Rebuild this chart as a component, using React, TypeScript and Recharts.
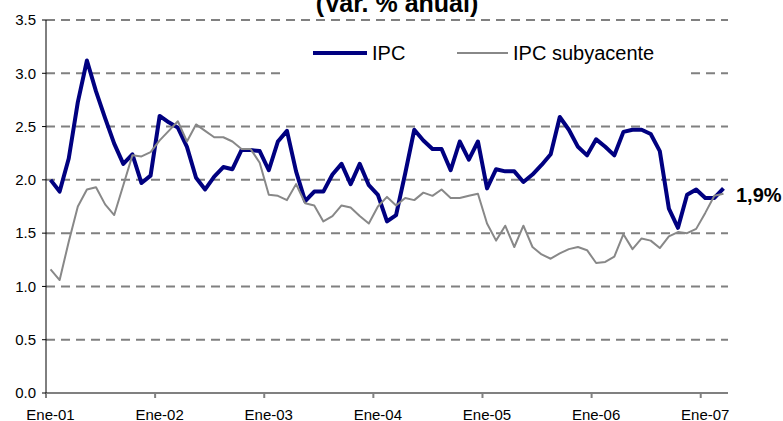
import { CartesianGrid, Legend, Line, LineChart, XAxis, YAxis } from "recharts";

const FONT = "Arial, 'Liberation Sans', sans-serif";

// monthly data, Ene-01 .. Mar-07
const yearLabels = ["Ene-01", "Ene-02", "Ene-03", "Ene-04", "Ene-05", "Ene-06", "Ene-07"];

const ipc = [
  2.0, 1.89, 2.2, 2.73, 3.12, 2.83, 2.58, 2.34, 2.15, 2.24, 1.97, 2.04,
  2.6, 2.54, 2.49, 2.31, 2.02, 1.91, 2.03, 2.12, 2.1, 2.28, 2.28, 2.27,
  2.09, 2.36, 2.46, 2.08, 1.8, 1.89, 1.89, 2.05, 2.15, 1.96, 2.15, 1.95,
  1.86, 1.61, 1.67, 2.06, 2.47, 2.37, 2.29, 2.29, 2.09, 2.36, 2.19, 2.36,
  1.92, 2.1, 2.08, 2.08, 1.98, 2.05, 2.14, 2.24, 2.59, 2.47, 2.31, 2.23,
  2.38, 2.31, 2.23, 2.45, 2.47, 2.47, 2.43, 2.27, 1.73, 1.55, 1.86, 1.91,
  1.83, 1.83, 1.92,
];

const ipcSubyacente = [
  1.16, 1.06, 1.42, 1.75, 1.91, 1.93, 1.77, 1.67, 1.95, 2.23, 2.22, 2.26,
  2.37, 2.46, 2.55, 2.36, 2.52, 2.46, 2.4, 2.4, 2.36, 2.29, 2.29, 2.16,
  1.86, 1.85, 1.81, 1.96, 1.78, 1.76, 1.61, 1.66, 1.76, 1.74, 1.66, 1.59,
  1.75, 1.84, 1.76, 1.83, 1.81, 1.88, 1.85, 1.91, 1.83, 1.83, 1.85, 1.87,
  1.59, 1.43, 1.57, 1.37, 1.57, 1.37, 1.3, 1.26, 1.31, 1.35, 1.37, 1.34,
  1.22, 1.23, 1.28, 1.49, 1.35, 1.45, 1.43, 1.36, 1.47, 1.51, 1.5, 1.54,
  1.69, 1.85, 1.87,
];

const yTicks = [0, 0.5, 1, 1.5, 2, 2.5, 3, 3.5];

// each month sits in the middle of its slot, year ticks on the slot boundary
const data = ipc.map((v, i) => ({ t: i + 0.5, ipc: v, sub: ipcSubyacente[i] }));
const xTicks = yearLabels.map((_, i) => i * 12);

function YearTick({ x, y, payload }: any) {
  return (
    <text x={x + 4.5} y={y} dy={11.5} textAnchor="middle" fontSize={15} fill="#000" fontFamily={FONT}>
      {yearLabels[payload.value / 12]}
    </text>
  );
}

function LegendBox({ payload }: any) {
  return (
    <div
      style={{
        display: "flex",
        alignItems: "center",
        height: 50,
        paddingLeft: 29,
        fontFamily: FONT,
        fontSize: 20,
        color: "#000",
      }}
    >
      {(payload || []).map((p: any, i: number) => (
        <div key={p.value} style={{ display: "flex", alignItems: "center", width: i === 0 ? 144 : undefined }}>
          <span
            style={{
              display: "inline-block",
              width: i === 0 ? 54 : 51,
              height: i === 0 ? 4 : 2,
              background: p.color,
              marginRight: 5,
            }}
          />
          <span>{p.value}</span>
        </div>
      ))}
    </div>
  );
}

function LastLabel(props: any) {
  const { x, y, index } = props;
  if (index !== ipc.length - 1) return <g />;
  return (
    <text x={x + 12.5} y={y + 14} fontSize={20} fontWeight="bold" fill="#000" fontFamily={FONT}>
      {ipc[index].toFixed(1).replace(".", ",") + "%"}
    </text>
  );
}

export default function App() {
  return (
    <div style={{ width: 783, height: 421, background: "#fff" }}>
      <style>{"body{margin:0}"}</style>
      <LineChart
        width={783}
        height={421}
        data={data}
        margin={{ top: 20, right: 55, bottom: 0, left: 0 }}
        style={{ fontFamily: FONT }}
      >
        <text x={397} y={12} textAnchor="middle" fontSize={25} fontWeight="bold" fill="#000" fontFamily={FONT}>
          (Var. % anual)
        </text>
        <CartesianGrid vertical={false} stroke="#808080" strokeWidth={2} strokeDasharray="9 6" />
        <XAxis
          dataKey="t"
          type="number"
          domain={[0, 75]}
          ticks={xTicks}
          interval={0}
          height={28}
          stroke="#808080"
          strokeWidth={2}
          tickSize={5}
          tickMargin={10}
          tick={<YearTick />}
        />
        <YAxis
          domain={[0, 3.5]}
          ticks={yTicks}
          interval={0}
          width={46}
          stroke="#000"
          tickSize={4}
          tickMargin={6}
          tick={{ fill: "#000", fontSize: 15, fontFamily: FONT }}
          tickFormatter={(v: number) => v.toFixed(1)}
        />
        <Legend
          layout="horizontal"
          verticalAlign="middle"
          align="center"
          wrapperStyle={{ left: 284, top: 28, width: 406, height: 50, background: "#fff" }}
          content={<LegendBox />}
        />
        <Line
          type="linear"
          dataKey="ipc"
          name="IPC"
          stroke="#000080"
          strokeWidth={4}
          strokeLinejoin="round"
          dot={false}
          activeDot={false}
          isAnimationActive={false}
          label={<LastLabel />}
        />
        <Line
          type="linear"
          dataKey="sub"
          name="IPC subyacente"
          stroke="#888888"
          strokeWidth={2}
          strokeLinejoin="round"
          dot={false}
          activeDot={false}
          isAnimationActive={false}
        />
      </LineChart>
    </div>
  );
}
